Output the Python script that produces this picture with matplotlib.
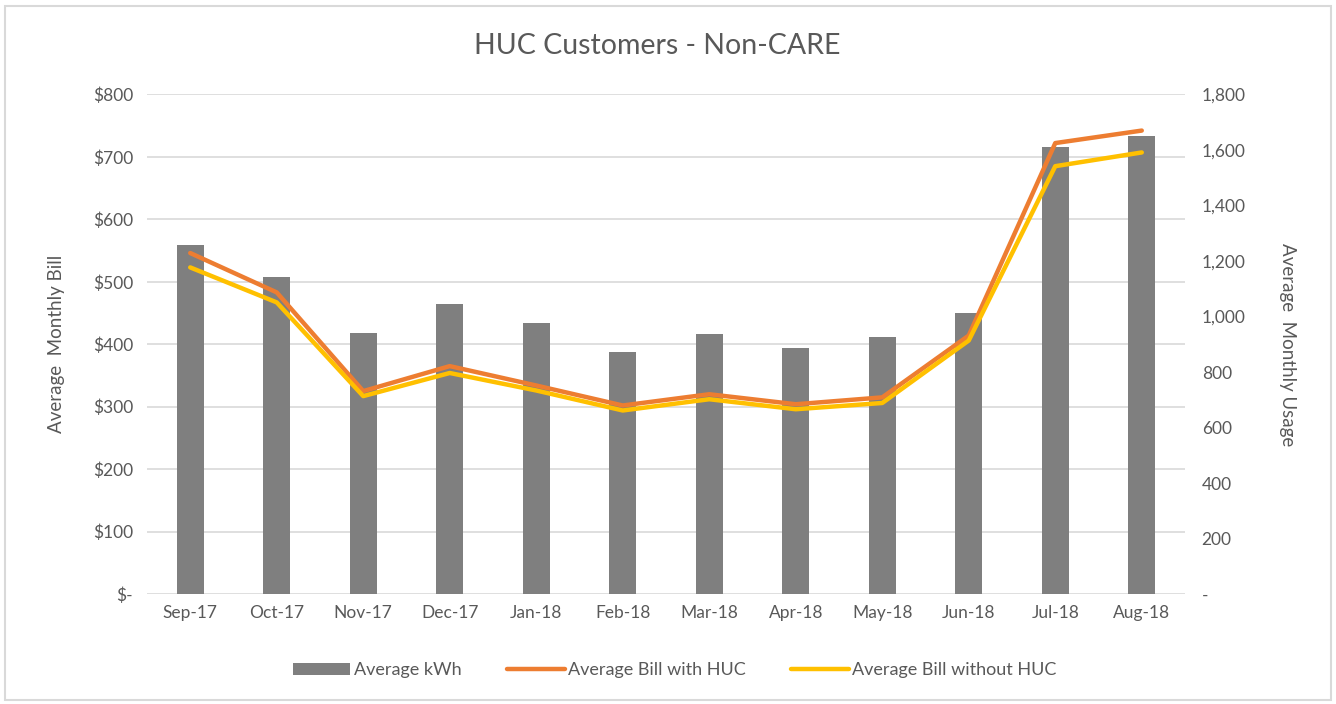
import matplotlib.pyplot as plt
import numpy as np
from matplotlib.patches import Rectangle

# 数据
months = ['Sep-17', 'Oct-17', 'Nov-17', 'Dec-17', 'Jan-18', 'Feb-18',
          'Mar-18', 'Apr-18', 'May-18', 'Jun-18', 'Jul-18', 'Aug-18']
avg_kwh = [1256, 1141, 940, 1044, 976, 871, 936, 886, 925, 1012, 1609, 1649]
bill_with_huc = [546, 483, 325, 365, 334, 302, 320, 304, 315, 414, 722, 742]
bill_without_huc = [523, 467, 317, 354, 326, 294, 312, 296, 306, 406, 685, 707]

bill_ticks = [0, 100, 200, 300, 400, 500, 600, 700, 800]
usage_ticks = [0, 200, 400, 600, 800, 1000, 1200, 1400, 1600, 1800]

plt.rcParams['font.family'] = ['Lato', 'DejaVu Sans']
txt = '#595959'

fig = plt.figure(figsize=(13.36, 7.04), dpi=100)
ax = fig.add_axes([0.110, 0.156, 0.777, 0.710])
ax2 = ax.twinx()
# 折线画在柱子上面
ax.set_zorder(ax2.get_zorder() + 1)
ax.patch.set_visible(False)

x = np.arange(len(months))
bars = ax2.bar(x, avg_kwh, width=0.31, color='#7F7F7F', label='Average kWh', zorder=2)
l1, = ax.plot(x, bill_with_huc, color='#ED7D31', lw=3.2, label='Average Bill with HUC', solid_capstyle='round')
l2, = ax.plot(x, bill_without_huc, color='#FFC000', lw=3.2, label='Average Bill without HUC', solid_capstyle='round')

ax.set_xlim(-0.5, len(months) - 0.5)
ax.set_ylim(0, 800)
ax2.set_ylim(0, 1800)
ax.set_yticks(bill_ticks)
ax.set_yticklabels(['$-'] + ['$%d' % v for v in bill_ticks[1:]])
ax2.set_yticks(usage_ticks)
ax2.set_yticklabels(['-'] + ['{:,}'.format(v) for v in usage_ticks[1:]])
ax.set_xticks(x)
ax.set_xticklabels(months)

# 网格在柱子下面
for v in bill_ticks:
    ax2.axhline(v * 1800 / 800, color='#D9D9D9', lw=1.2, zorder=0)

for a in (ax, ax2):
    for s in a.spines.values():
        s.set_visible(False)
    a.tick_params(length=0, labelsize=12.5, labelcolor=txt)
ax.tick_params(axis='y', pad=10)
ax2.tick_params(axis='y', pad=12)
ax.tick_params(axis='x', pad=8)

ax.set_ylabel('Average  Monthly Bill', fontsize=13.5, color=txt, labelpad=20)
ax2.set_ylabel('Average  Monthly Usage', fontsize=13.5, color=txt, rotation=270, labelpad=36)
fig.text(0.492, 0.935, 'HUC Customers - Non-CARE', ha='center', va='center', fontsize=20.5, color=txt)

fig.legend([bars, l1, l2], ['Average kWh', 'Average Bill with HUC', 'Average Bill without HUC'],
           loc='center', bbox_to_anchor=(0.505, 0.048), ncol=3, frameon=False,
           fontsize=13, labelcolor=txt, handlelength=3.2, handletextpad=0.2, columnspacing=2.5)

fig.patches.append(Rectangle((0.004, 0.006), 0.992, 0.985, transform=fig.transFigure,
                             fill=False, edgecolor='#D9D9D9', lw=1.5))

plt.savefig('out.png', dpi=100)
